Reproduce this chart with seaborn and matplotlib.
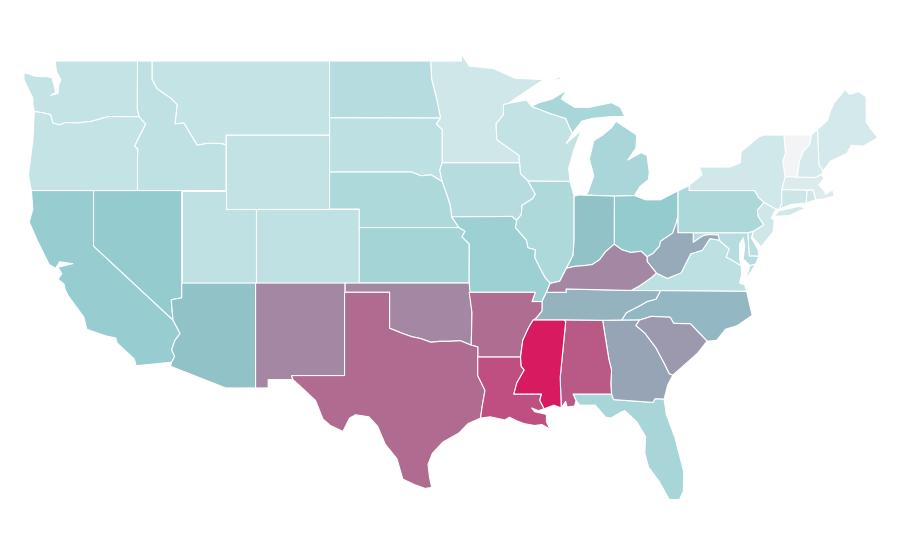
import matplotlib
matplotlib.use("Agg")
import matplotlib.pyplot as plt
from matplotlib.collections import PolyCollection
from matplotlib.colors import Normalize
import seaborn as sns

sns.set_style("white")

# ========== values ==========
state_names = ["VT", "MA", "NH", "ME", "RI", "NJ", "NY", "MN", "CT", "WA", "OR", "MT", "WY",
               "ID", "UT", "CO", "WI", "VA", "SD", "DE", "MD", "ND", "IA", "NE", "IL", "PA",
               "MI", "FL", "KS", "MO", "CA", "OH", "NV", "AZ", "IN", "NC", "TN", "WV", "GA",
               "SC", "KY", "NM", "OK", "AR", "TX", "AL", "LA", "MS"]
state_values = [0, 9, 11, 12, 14, 14, 13, 14, 15, 18, 18, 18, 19,
                20, 20, 20, 19, 21, 21, 22, 24, 24, 24, 27, 27, 28,
                29, 30, 31, 34, 37, 38, 38, 44, 44, 49, 52, 57, 60,
                64, 70, 70, 70, 79, 80, 84, 87, 100]
palette_colors = ["#f3f4f6", "#bfe1e3", "#8fc9cd", "#97a4b6", "#b06b91", "#d81b60"]

# ========== shared borders (lon, lat) ==========
columbia = [(-116.92, 45.99), (-118.98, 46.0), (-119.3, 45.93), (-120.2, 45.73), (-121.2, 45.65),
            (-121.9, 45.68), (-122.3, 45.55), (-122.75, 45.65), (-122.9, 46.1), (-123.4, 46.2), (-124.0, 46.27)]
snake = [(-117.03, 43.8), (-117.0, 44.25), (-117.22, 44.4), (-116.85, 45.0), (-116.47, 45.6), (-116.92, 45.99)]
co_river = [(-114.63, 35.0), (-114.15, 34.27), (-114.5, 33.9), (-114.72, 33.4), (-114.52, 33.03), (-114.72, 32.72)]
id_mt = [(-116.05, 49.0), (-116.05, 48.0), (-115.7, 47.5), (-114.8, 47.0), (-114.35, 46.65), (-114.5, 45.6),
         (-113.9, 45.65), (-113.45, 45.05), (-113.0, 44.45), (-112.3, 44.55), (-111.5, 44.55), (-111.05, 44.48)]
red_north = [(-96.56, 45.93), (-96.8, 46.9), (-97.15, 48.0), (-97.23, 49.0)]
sd_mn = [(-96.45, 43.5), (-96.45, 45.3), (-96.85, 45.6), (-96.56, 45.93)]
big_sioux = [(-96.45, 42.49), (-96.6, 43.1), (-96.45, 43.5)]
ne_sd = [(-104.05, 43.0), (-98.5, 43.0), (-97.9, 42.8), (-97.2, 42.85), (-96.45, 42.49)]
ia_ne = [(-96.45, 42.49), (-96.1, 41.7), (-95.9, 41.2), (-95.8, 40.58)]
mo_ne = [(-95.8, 40.58), (-95.31, 40.0)]
mo_ks = [(-95.31, 40.0), (-94.9, 39.8), (-95.1, 39.5), (-94.61, 39.11), (-94.62, 37.0)]
red_south = [(-94.48, 33.64), (-95.2, 33.88), (-96.0, 33.85), (-96.6, 33.85), (-97.2, 33.8), (-97.9, 34.0),
             (-98.5, 34.1), (-99.2, 34.3), (-100.0, 34.56)]
ia_wi = [(-91.22, 43.5), (-91.15, 42.9), (-90.64, 42.51)]
ia_il = [(-90.64, 42.51), (-90.15, 41.8), (-90.35, 41.55), (-91.05, 41.2), (-91.1, 40.7), (-91.42, 40.38)]
il_mo = [(-91.42, 40.38), (-91.5, 40.0), (-90.75, 39.3), (-90.65, 38.9), (-90.15, 38.8), (-90.2, 38.4),
         (-89.9, 37.9), (-89.5, 37.3), (-89.15, 36.98)]
ky_mo = [(-89.15, 36.98), (-89.4, 36.5)]
tn_mo = [(-89.4, 36.5), (-89.7, 36.0)]
tn_ar = [(-89.7, 36.0), (-89.7, 35.5), (-90.1, 35.1), (-90.3, 35.0)]
ms_ar = [(-90.3, 35.0), (-90.6, 34.6), (-91.0, 33.9), (-91.15, 33.0)]
ms_la = [(-91.15, 33.0), (-91.1, 32.5), (-90.9, 32.3), (-91.4, 31.6), (-91.6, 31.0)]
pearl = [(-89.73, 31.0), (-89.85, 30.67), (-89.55, 30.2)]
il_ky = [(-89.15, 36.98), (-88.5, 37.1), (-88.05, 37.8)]
in_ky = [(-88.05, 37.8), (-87.5, 37.9), (-86.8, 37.95), (-86.3, 38.0), (-85.8, 38.27), (-85.4, 38.7), (-84.82, 39.1)]
oh_ky = [(-84.82, 39.1), (-84.3, 38.8), (-83.7, 38.65), (-83.0, 38.72), (-82.6, 38.42)]
oh_wv = [(-82.6, 38.42), (-82.2, 38.6), (-81.75, 39.0), (-81.7, 39.25), (-80.87, 39.7), (-80.6, 40.3), (-80.52, 40.64)]
il_in = [(-87.53, 41.7), (-87.53, 39.35), (-87.6, 38.5), (-88.05, 37.8)]
mn_wi = [(-92.0, 46.7), (-92.3, 46.65), (-92.3, 46.1), (-92.8, 45.6), (-92.75, 44.75), (-91.25, 43.9), (-91.22, 43.5)]
wi_up = [(-90.4, 46.55), (-89.1, 46.15), (-88.1, 45.9), (-87.8, 45.35), (-87.65, 45.1)]
savannah = [(-83.11, 35.0), (-83.35, 34.7), (-82.75, 34.3), (-82.0, 33.5), (-81.4, 32.6), (-81.1, 32.1), (-80.85, 32.03)]
nc_sc = [(-83.11, 35.0), (-82.3, 35.2), (-81.04, 35.15), (-80.8, 34.82), (-79.67, 34.8), (-78.55, 33.86)]
nc_tn = [(-84.32, 34.99), (-84.0, 35.4), (-83.1, 35.77), (-82.6, 36.0), (-82.0, 36.13), (-81.68, 36.59)]
ky_va = [(-83.68, 36.6), (-83.1, 36.85), (-82.3, 37.3), (-81.97, 37.54)]
ky_wv = [(-81.97, 37.54), (-82.6, 38.17), (-82.6, 38.42)]
va_wv = [(-77.72, 39.32), (-78.35, 39.4), (-78.87, 38.77), (-79.65, 38.58), (-80.3, 37.55), (-81.23, 37.25), (-81.97, 37.54)]
potomac = [(-76.25, 37.95), (-77.0, 38.3), (-77.25, 38.4), (-77.05, 38.85), (-77.5, 39.15), (-77.72, 39.32)]
md_wv = [(-77.72, 39.32), (-77.8, 39.6), (-78.4, 39.62), (-78.75, 39.58), (-79.0, 39.47), (-79.48, 39.2), (-79.48, 39.72)]
pa_nj = [(-74.7, 41.36), (-75.15, 40.95), (-75.1, 40.6), (-74.72, 40.15), (-75.42, 39.8)]
ny_vt = [(-73.35, 45.0), (-73.25, 44.0), (-73.43, 43.6), (-73.27, 42.75)]
vt_nh = [(-71.5, 45.0), (-71.6, 44.5), (-72.05, 44.1), (-72.3, 43.6), (-72.46, 42.73)]

outlines = {
    "WA": [[(-124.7, 48.38), (-123.9, 48.17), (-123.1, 48.15), (-122.8, 48.1), (-122.55, 47.3), (-122.9, 47.15),
            (-122.4, 47.25), (-122.35, 47.7), (-122.2, 48.0), (-122.5, 48.4), (-122.6, 49.0), (-117.03, 49.0),
            (-117.04, 46.42)] + columbia + [(-124.1, 46.7), (-124.1, 47.0), (-124.35, 47.4), (-124.7, 48.0)]],
    "OR": [columbia[::-1] + snake[::-1] + [(-117.03, 42.0), (-124.2, 42.0), (-124.4, 42.85), (-124.1, 44.7)]],
    "CA": [[(-124.2, 42.0), (-120.0, 42.0), (-120.0, 39.0)] + co_river +
           [(-117.12, 32.53), (-117.25, 32.9), (-118.4, 33.75), (-118.5, 34.03), (-119.2, 34.15), (-120.45, 34.5),
            (-120.65, 35.15), (-121.7, 36.3), (-121.9, 36.6), (-122.0, 36.95), (-122.4, 37.2), (-122.15, 37.5),
            (-122.4, 37.85), (-121.4, 38.05), (-122.3, 38.15), (-122.55, 37.8), (-123.0, 38.0), (-123.8, 39.3),
            (-124.35, 40.3), (-124.1, 41.0)]],
    "NV": [[(-120.0, 42.0), (-114.04, 42.0), (-114.04, 36.2), (-114.75, 36.1), (-114.63, 35.0), (-120.0, 39.0)]],
    "AZ": [[(-114.04, 37.0), (-109.05, 37.0), (-109.05, 31.33), (-111.07, 31.33), (-114.8, 32.5)] + co_river[::-1] +
           [(-114.75, 36.1), (-114.04, 36.2)]],
    "UT": [[(-114.04, 42.0), (-111.05, 42.0), (-111.05, 41.0), (-109.05, 41.0), (-109.05, 37.0), (-114.04, 37.0)]],
    "ID": [[(-117.03, 49.0)] + id_mt + [(-111.05, 42.0), (-117.03, 42.0)] + snake + [(-117.04, 46.42)]],
    "MT": [[(-116.05, 49.0), (-104.05, 49.0), (-104.05, 45.0), (-111.05, 45.0)] + id_mt[::-1]],
    "WY": [[(-111.05, 45.0), (-104.05, 45.0), (-104.05, 41.0), (-111.05, 41.0)]],
    "CO": [[(-109.05, 41.0), (-102.05, 41.0), (-102.05, 37.0), (-109.05, 37.0)]],
    "NM": [[(-109.05, 37.0), (-103.0, 37.0), (-103.04, 32.0), (-106.62, 32.0), (-106.53, 31.78), (-108.2, 31.78),
            (-108.2, 31.33), (-109.05, 31.33)]],
    "ND": [[(-104.05, 49.0)] + red_north[::-1] + [(-104.05, 45.94)]],
    "SD": [[(-104.05, 45.94)] + sd_mn[::-1] + big_sioux[::-1] + ne_sd[::-1]],
    "NE": [ne_sd + ia_ne + mo_ne[1:] + [(-102.05, 40.0), (-102.05, 41.0), (-104.05, 41.0)]],
    "KS": [[(-102.05, 40.0)] + mo_ks + [(-102.05, 37.0)]],
    "OK": [[(-103.0, 37.0), (-94.62, 37.0), (-94.43, 35.4)] + red_south + [(-100.0, 36.5), (-103.0, 36.5)]],
    "TX": [[(-103.04, 36.5), (-100.0, 36.5)] + red_south[::-1] +
           [(-94.04, 33.55), (-94.04, 32.0), (-93.55, 31.2), (-93.75, 30.3), (-93.85, 29.7), (-94.7, 29.4),
            (-95.3, 28.9), (-96.4, 28.4), (-97.1, 27.8), (-97.4, 27.2), (-97.3, 26.5), (-97.15, 25.95), (-97.6, 25.9),
            (-98.3, 26.1), (-99.1, 26.4), (-99.5, 27.5), (-100.3, 28.3), (-100.8, 29.25), (-101.4, 29.77),
            (-102.3, 29.88), (-102.7, 29.7), (-103.15, 28.98), (-104.0, 29.3), (-104.5, 29.65), (-105.0, 30.65),
            (-106.0, 31.4), (-106.53, 31.78), (-106.62, 32.0), (-103.04, 32.0)]],
    "AR": [[(-94.62, 36.5), (-90.15, 36.5), (-90.37, 36.0)] + tn_ar + ms_ar[1:] + [(-94.04, 33.0), (-94.04, 33.55),
           (-94.48, 33.64), (-94.43, 35.4)]],
    "MO": [[(-95.8, 40.58), (-91.72, 40.6)] + il_mo + ky_mo[1:] + tn_mo[1:] +
           [(-90.37, 36.0), (-90.15, 36.5), (-94.62, 36.5)] + mo_ks[::-1]],
    "LA": [[(-94.04, 33.0)] + ms_la + pearl + [(-89.95, 30.1), (-90.4, 30.25), (-90.2, 30.05), (-89.4, 29.9),
           (-89.4, 29.5), (-89.15, 29.1), (-89.7, 29.35), (-90.2, 29.3), (-90.9, 29.4), (-91.4, 29.55), (-91.9, 29.75),
           (-92.2, 29.6), (-93.2, 29.77), (-93.85, 29.7), (-93.75, 30.3), (-93.55, 31.2), (-94.04, 32.0)]],
    "MS": [[(-90.3, 35.0), (-88.2, 35.0), (-88.1, 34.9), (-88.47, 31.9), (-88.4, 30.25), (-88.9, 30.4)] + pearl[::-1] +
           ms_la[::-1] + ms_ar[::-1][1:]],
    "AL": [[(-88.2, 35.0), (-85.6, 34.98), (-85.18, 32.87), (-85.0, 32.3), (-85.05, 31.55), (-85.0, 31.0),
            (-87.6, 31.0), (-87.4, 30.65), (-87.5, 30.35), (-88.0, 30.3), (-88.1, 30.6), (-88.4, 30.25),
            (-88.47, 31.9), (-88.1, 34.9)]],
    "GA": [[(-85.6, 34.98)] + savannah + [(-81.2, 31.5), (-81.45, 30.73), (-82.05, 30.75), (-82.2, 30.55),
           (-84.86, 30.7), (-85.0, 31.0), (-85.05, 31.55), (-85.0, 32.3), (-85.18, 32.87)]],
    "FL": [[(-87.6, 31.0), (-85.0, 31.0), (-84.86, 30.7), (-82.2, 30.55), (-82.05, 30.75), (-81.45, 30.73),
            (-81.3, 29.9), (-80.73, 28.68), (-80.12, 26.8), (-80.15, 25.75), (-80.4, 25.3), (-81.1, 25.3),
            (-81.8, 26.3), (-82.5, 27.05), (-82.75, 27.8), (-82.7, 28.7), (-83.3, 29.5), (-84.1, 30.1),
            (-84.3, 30.05), (-85.05, 29.7), (-85.4, 29.75), (-86.1, 30.4), (-87.15, 30.4), (-87.4, 30.65)]],
    "SC": [nc_sc + [(-79.2, 33.2), (-79.9, 32.7)] + savannah[::-1][:-1]],
    "NC": [[(-84.32, 34.99)] + nc_sc + [(-77.9, 33.9), (-77.3, 34.5), (-76.5, 34.7), (-75.5, 35.25), (-75.87, 36.55)] +
           nc_tn[::-1]],
    "TN": [[(-90.3, 35.0), (-88.2, 35.0), (-85.6, 34.98)] + nc_tn + [(-83.68, 36.6), (-88.07, 36.68), (-88.07, 36.5)] +
           tn_mo + tn_ar[1:]],
    "KY": [[(-89.4, 36.5), (-88.07, 36.5), (-88.07, 36.68)] + ky_va + ky_wv[1:] + oh_ky[::-1][1:] + in_ky[::-1][1:] +
           il_ky[::-1][1:]],
    "VA": [[(-83.68, 36.6), (-81.68, 36.59), (-75.87, 36.55), (-76.0, 36.9), (-76.35, 37.0), (-76.2, 37.5)] + potomac +
           va_wv[1:] + ky_va[::-1][1:],
           [(-75.95, 37.15), (-75.25, 38.03), (-75.65, 37.95)]],
    "WV": [[(-80.52, 40.64), (-80.52, 39.72)] + md_wv[::-1] + va_wv[1:] + ky_wv[1:] + oh_wv[1:]],
    "MD": [[(-79.48, 39.72), (-75.79, 39.72), (-75.7, 38.46), (-75.05, 38.45), (-75.25, 38.03), (-75.65, 37.95),
            (-76.1, 38.3), (-76.0, 39.0), (-76.1, 39.45), (-76.35, 39.1), (-76.35, 38.3)] + potomac + md_wv[1:]],
    "DE": [[(-75.79, 39.72), (-75.42, 39.8), (-75.55, 39.45), (-75.1, 38.8), (-75.05, 38.45), (-75.7, 38.46)]],
    "PA": [[(-80.52, 41.98), (-79.76, 42.27), (-79.76, 42.0), (-75.35, 42.0), (-75.05, 41.6)] + pa_nj +
           [(-75.79, 39.72), (-80.52, 39.72)]],
    "NJ": [[(-74.7, 41.36), (-73.9, 41.0), (-74.2, 40.5), (-74.0, 40.4), (-74.1, 39.75), (-74.9, 38.95), (-75.5, 39.5)] +
           pa_nj[::-1]],
    "NY": [[(-79.76, 42.27), (-78.9, 42.85), (-79.05, 43.27), (-77.0, 43.27), (-76.3, 43.5), (-76.25, 44.1), (-75.05, 44.9),
            (-74.7, 45.0)] + ny_vt + [(-73.5, 42.05), (-73.5, 41.3), (-73.65, 41.0), (-73.9, 41.0), (-74.7, 41.36),
            (-75.05, 41.6), (-75.35, 42.0), (-79.76, 42.0)],
           [(-74.0, 40.6), (-73.7, 40.9), (-72.3, 41.15), (-71.9, 41.05), (-73.0, 40.65)]],
    "CT": [[(-73.5, 42.05), (-71.8, 42.02), (-71.85, 41.32), (-72.9, 41.25), (-73.65, 41.0), (-73.5, 41.3)]],
    "RI": [[(-71.8, 42.02), (-71.38, 42.02), (-71.2, 41.5), (-71.85, 41.32)]],
    "MA": [[(-73.5, 42.05), (-73.27, 42.75), (-72.46, 42.73), (-71.3, 42.7), (-70.8, 42.87), (-70.65, 42.65), (-71.0, 42.3),
            (-70.6, 41.95), (-70.55, 41.8), (-70.05, 42.05), (-69.95, 41.7), (-70.65, 41.55), (-71.2, 41.5),
            (-71.38, 42.02), (-71.8, 42.02)]],
    "VT": [ny_vt + vt_nh[::-1]],
    "NH": [vt_nh + [(-71.3, 42.7), (-70.8, 42.87), (-70.7, 43.07), (-70.98, 43.4), (-71.08, 45.3)]],
    "ME": [[(-71.08, 45.3), (-70.4, 45.8), (-70.25, 46.2), (-70.0, 46.7), (-69.23, 47.46), (-68.9, 47.2), (-68.3, 47.35),
            (-67.8, 47.07), (-67.8, 45.7), (-67.45, 45.3), (-67.0, 44.85), (-68.0, 44.4), (-68.8, 44.45), (-69.1, 44.0),
            (-70.2, 43.6), (-70.7, 43.07), (-70.98, 43.4)]],
    "OH": [[(-84.81, 41.7), (-83.45, 41.73), (-82.7, 41.5), (-81.7, 41.5), (-80.52, 41.98)] + oh_wv[::-1] + oh_ky[::-1][1:]],
    "IN": [[(-87.53, 41.7), (-87.2, 41.76), (-84.81, 41.7)] + in_ky[::-1] + il_in[::-1][1:]],
    "IL": [[(-90.64, 42.51), (-87.8, 42.49), (-87.6, 41.9)] + il_in + il_ky[::-1] + il_mo[::-1] + ia_il[::-1][1:]],
    "WI": [[(-90.64, 42.51), (-87.8, 42.49), (-87.9, 43.2), (-87.55, 44.2), (-87.05, 45.25), (-88.05, 44.55)] + wi_up[::-1] +
           [(-90.75, 46.9)] + mn_wi + ia_wi[1:]],
    "MN": [[(-97.23, 49.0), (-95.15, 49.0), (-95.15, 49.38), (-94.6, 48.72), (-93.0, 48.6), (-91.5, 48.07), (-89.6, 48.0)] +
           mn_wi + sd_mn + red_north[1:]],
    "IA": [[(-96.45, 43.5)] + ia_wi + ia_il[1:] + [(-91.72, 40.6)] + ia_ne[::-1] + big_sioux[1:]],
    "MI": [[(-86.8, 41.76), (-84.81, 41.7), (-83.45, 41.73), (-83.1, 42.2), (-82.5, 42.6), (-82.45, 43.0), (-82.6, 43.9),
            (-83.0, 44.05), (-83.9, 43.65), (-83.35, 44.3), (-83.3, 45.0), (-84.7, 45.75), (-85.0, 45.4), (-85.6, 45.0),
            (-86.2, 44.7), (-86.5, 43.7), (-86.2, 42.8), (-86.6, 41.9)],
           wi_up + [(-87.0, 45.75), (-86.3, 45.9), (-85.0, 46.0), (-84.1, 46.0), (-84.4, 46.5), (-85.0, 46.75),
                    (-86.5, 46.5), (-87.5, 46.5), (-88.4, 46.95), (-88.0, 47.45), (-89.0, 46.95), (-89.9, 46.75)],
           [(-89.2, 47.85), (-88.5, 48.15), (-88.45, 48.05)]],
}

# ========== draw ==========
cmap = sns.blend_palette(palette_colors, as_cmap=True)

polys = []
poly_values = []
for name, value in zip(state_names, state_values):
    for ring in outlines[name]:
        polys.append(ring)
        poly_values.append(value)

fig = plt.figure(figsize=(9, 5.6), dpi=100)
ax = fig.add_axes([0, 0, 1, 1])
states = PolyCollection(polys, array=poly_values, cmap=cmap, norm=Normalize(0, 100),
                        edgecolors="white", linewidths=0.8)
ax.add_collection(states)
ax.set_xlim(-126.32, -65.51)
ax.set_ylim(22.03, 52.3)
ax.axis("off")

fig.savefig("out.png", dpi=100, facecolor="white")
